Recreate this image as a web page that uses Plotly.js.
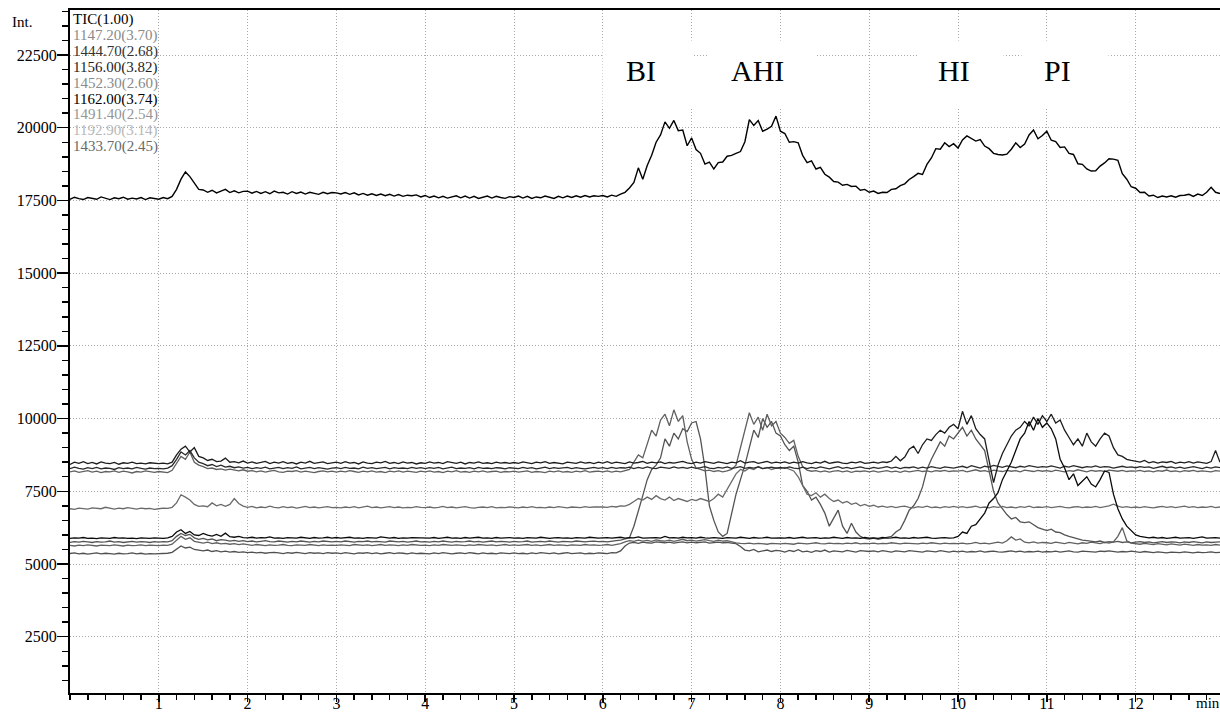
<!DOCTYPE html>
<html>
<head>
<meta charset="utf-8">
<script src="https://cdn.plot.ly/plotly-3.0.1.min.js"></script>
<style>html,body{margin:0;padding:0;background:#fff;}#chart{width:1220px;height:713px;}</style>
</head>
<body>
<div id="chart"></div>
<script>
// Sampling of all chromatograms: start time and step (min)
const T_START = 0;
const T_STEP = 0.05;

// Total ion chromatogram
const ticValues = [
17540,17610,17560,17530,17600,17580,17540,17620,17570,17530,17590,17560,17610,17540,17580,17550,17600,17530,17590,17560,
17540,17600,17560,17640,17880,18230,18480,18320,18080,17880,17860,17780,17850,17760,17820,17880,17770,17830,17760,17810,
17820,17750,17810,17740,17800,17730,17820,17760,17780,17720,17800,17740,17790,17720,17780,17740,17710,17780,17730,17770,
17760,17720,17770,17710,17760,17690,17740,17680,17730,17670,17720,17660,17710,17650,17700,17640,17680,17660,17690,17620,
17670,17600,17650,17590,17640,17580,17630,17660,17590,17650,17580,17640,17570,17620,17650,17580,17640,17600,17570,17630,
17600,17650,17580,17640,17570,17620,17590,17650,17600,17570,17640,17590,17650,17600,17660,17610,17670,17620,17660,17640,
17670,17620,17680,17640,17720,17780,17930,18120,18620,18230,18700,19050,19500,19750,20200,19980,20250,19900,19920,19380,
19650,19250,19120,18750,18820,18580,18800,18820,19020,19050,19120,19180,19520,20280,20080,20250,19880,19950,20050,20400,
19880,19800,19500,19520,19480,19050,18800,18860,18580,18640,18400,18300,18150,18130,18020,18050,17980,17990,17850,17880,
17780,17820,17740,17780,17770,17880,17900,18010,18070,18220,18320,18430,18390,18740,18960,19280,19260,19480,19350,19450,
19300,19580,19720,19620,19540,19590,19370,19280,19120,19080,19060,19090,19260,19480,19320,19440,19750,19920,19620,19730,
19880,19570,19520,19320,19340,19120,19080,18760,18740,18580,18510,18520,18680,18790,18930,18920,18880,18420,18230,17970,
17920,17770,17780,17650,17680,17600,17650,17620,17660,17610,17670,17680,17710,17640,17720,17670,17780,17950,17780,17740
];

// m/z 1147.20 (x3.70)
const mz1147 = [
8170,8200,8150,8180,8210,8160,8190,8140,8180,8170,8200,8150,8190,8170,8130,8180,8160,8200,8170,8150,
8180,8160,8140,8220,8450,8700,8600,8850,8500,8400,8350,8280,8300,8250,8270,8230,8260,8220,8200,8240,
8190,8210,8170,8200,8160,8190,8220,8170,8150,8190,8180,8210,8160,8190,8170,8140,8180,8200,8170,8190,
8160,8190,8170,8210,8180,8150,8190,8170,8200,8160,8180,8140,8190,8170,8200,8160,8190,8180,8150,8190,
8170,8200,8160,8180,8140,8190,8170,8210,8160,8180,8150,8190,8170,8200,8160,8180,8190,8150,8180,8170,
8190,8160,8180,8200,8150,8180,8170,8140,8190,8170,8200,8160,8180,8150,8190,8170,8210,8160,8180,8190,
8170,8200,8160,8190,8170,8210,8250,8500,8750,8650,9100,9600,9400,9950,10150,9750,10300,9900,10100,9200,
8600,8300,8250,8200,8230,8180,8210,8170,8200,8250,8400,9000,9700,10200,9800,10050,9600,10150,9750,9900,
9500,9350,9150,9250,8700,8350,8230,8190,8210,8170,8200,8160,8190,8210,8170,8200,8150,8190,8180,8200,
8170,8200,8160,8190,8210,8170,8190,8150,8200,8170,8190,8220,8180,8200,8170,8210,8190,8220,8180,8200,
8190,8220,8170,8200,8240,8190,8210,8170,8230,8200,8180,8220,8190,8210,8170,8230,8200,8180,8220,8190,
8210,8180,8230,8200,8170,8210,8190,8240,8200,8170,8220,8190,8210,8180,8230,8200,8190,8220,8180,8200,
8190,8220,8180,8200,8170,8210,8190,8230,8180,8200,8170,8210,8190,8220,8180,8200,8190,8170,8210,8190
];

// m/z 1444.70 (x2.68)
const mz1444 = [
8420,8500,8460,8520,8450,8490,8440,8510,8470,8450,8490,8430,8480,8460,8500,8450,8470,8440,8480,8460,
8450,8470,8440,8500,8750,8950,9050,8850,9000,8700,8650,8560,8600,8520,8540,8640,8500,8520,8480,8540,
8470,8510,8460,8490,8530,8450,8500,8470,8520,8460,8490,8440,8500,8470,8530,8460,8490,8510,8450,8480,
8500,8460,8520,8470,8490,8440,8510,8470,8450,8500,8480,8530,8460,8490,8450,8510,8470,8490,8440,8480,
8460,8510,8470,8490,8450,8520,8480,8460,8500,8440,8490,8470,8510,8460,8480,8450,8500,8470,8490,8460,
8490,8460,8510,8470,8450,8500,8480,8520,8460,8490,8470,8440,8500,8480,8460,8510,8470,8490,8450,8500,
8470,8520,8460,8500,8480,8450,8510,8470,8490,8530,8460,8500,8480,8510,8450,8490,8470,8500,8530,8480,
8450,8500,8470,8520,8480,8460,8510,8490,8450,8500,8480,8550,8470,8500,8520,8460,8490,8530,8470,8500,
8480,8510,8460,8500,8470,8520,8480,8450,8500,8470,8530,8460,8490,8510,8470,8450,8500,8480,8520,8460,
8480,8500,8470,8510,8490,8540,8700,8550,8680,8950,9050,8800,9100,9300,9250,9450,9600,9500,9700,9800,
9650,10250,9800,10100,9650,9450,9300,8600,7800,8400,8800,9100,9400,9600,9700,9900,9750,10050,9800,10100,
9900,10150,9850,9950,9600,9350,9100,9300,9050,9500,9200,9050,9300,9500,9400,9000,8750,8700,8600,8560,
8540,8500,8560,8480,8520,8470,8510,8490,8530,8460,8500,8480,8520,8470,8510,8490,8460,8520,8900,8500
];

// m/z 1156.00 (x3.82)
const mz1156 = [
8280,8330,8290,8260,8310,8280,8320,8270,8300,8290,8250,8310,8280,8300,8270,8320,8290,8260,8300,8280,
8290,8270,8300,8380,8600,8850,8750,8900,8650,8500,8450,8380,8420,8350,8400,8330,8360,8310,8340,8300,
8320,8280,8310,8290,8330,8270,8300,8320,8280,8310,8290,8340,8270,8300,8320,8280,8310,8290,8260,8300,
8310,8280,8320,8290,8300,8270,8330,8290,8310,8280,8300,8320,8270,8310,8290,8300,8280,8320,8290,8310,
8280,8310,8290,8320,8270,8300,8330,8280,8300,8290,8310,8270,8320,8290,8300,8280,8310,8300,8270,8310,
8300,8280,8320,8290,8310,8270,8300,8330,8280,8310,8290,8300,8320,8280,8310,8290,8270,8300,8320,8290,
8310,8280,8320,8290,8310,8300,8330,8280,8320,8290,8340,8300,8280,8330,8310,8290,8340,8300,8320,8290,
8330,8290,8310,8350,8300,8280,8320,8300,8340,8290,8310,8350,8290,8320,8300,8340,8280,8310,8330,8300,
8320,8290,8340,8300,8280,8330,8280,8320,8290,8340,8300,8270,8310,8350,8290,8320,8280,8310,8340,8300,
8280,8320,8290,8310,8350,8300,8330,8280,8320,8310,8340,8290,8330,8300,8350,8310,8290,8340,8320,8300,
8330,8360,8310,8380,8340,8300,8360,8330,8390,8350,8320,8370,8340,8310,8360,8330,8380,8340,8320,8350,
8330,8370,8340,8300,8360,8330,8380,8340,8310,8350,8330,8370,8320,8350,8340,8300,8330,8360,8320,8340,
8310,8350,8320,8340,8290,8330,8360,8310,8340,8300,8330,8290,8320,8350,8310,8280,8330,8300,8340,8310
];

// m/z 1452.30 (x2.60)
const mz1452 = [
6900,6880,6920,6900,6890,6930,6910,6900,6950,6910,6890,6920,6900,6940,6910,6890,6920,6900,6910,6880,
6900,6920,6910,6950,7100,7380,7300,7200,7050,6980,7000,6970,7100,7000,7050,6980,7050,7250,7080,6990,
6950,6980,6930,6960,6940,6990,6950,6930,6970,6940,6960,6920,6950,6980,6940,6960,6930,6950,6970,6940,
6950,6930,6960,6940,6970,6930,6950,6990,6940,6960,6930,6950,6970,6940,6960,6930,6950,6940,6970,6950,
6940,6960,6930,6950,6980,6940,6960,6930,6950,6970,6940,6920,6950,6960,6940,6970,6930,6950,6940,6960,
6950,6930,6960,6940,6970,6940,6950,6930,6960,6940,6970,6950,6930,6960,6950,6940,6970,6950,6960,6970,
6960,6950,6980,6960,7000,6990,7050,7150,7250,7200,7300,7220,7350,7250,7200,7300,7180,7250,7200,7150,
7220,7180,7250,7200,7150,7250,7400,7300,7550,7800,8100,8250,8200,8300,8250,8350,8280,8320,8250,8300,
8280,8320,8250,8200,8000,7700,7400,7350,7450,7300,7400,7250,7150,7200,7100,7150,7050,7100,7000,7050,
6980,7020,6960,6990,6950,6980,6940,6970,6990,6950,6930,6970,6950,6990,6940,6960,6930,6970,6950,6980,
6950,6970,6940,6960,6990,6940,6960,6930,6970,6950,6980,6940,6960,6930,6970,6950,6990,6940,6960,6950,
6970,6940,6960,6980,6950,6930,6960,6970,6940,6960,6950,6980,6940,6970,7000,7060,6990,6950,6970,6940,
6960,6940,6970,6950,6930,6960,6980,6950,6970,6940,6960,6990,6950,6970,6940,6960,6950,6980,6940,6960
];

// m/z 1162.00 (x3.74)
const mz1162 = [
5880,5900,5890,5910,5880,5890,5870,5900,5890,5880,5910,5890,5900,5880,5890,5870,5900,5890,5880,5900,
5890,5880,5900,5950,6100,6180,6050,6120,6000,5980,6050,5990,5960,6020,5950,6060,5940,5920,5950,5910,
5900,5920,5890,5910,5900,5930,5890,5900,5880,5910,5900,5890,5920,5900,5880,5910,5890,5900,5920,5890,
5910,5890,5900,5920,5890,5900,5880,5910,5900,5890,5930,5900,5890,5910,5880,5900,5890,5910,5900,5890,
5900,5890,5910,5880,5900,5920,5890,5900,5880,5910,5890,5900,5920,5890,5900,5880,5910,5890,5900,5910,
5890,5900,5880,5910,5900,5890,5920,5900,5880,5900,5910,5890,5900,5880,5910,5900,5890,5920,5900,5890,
5900,5910,5890,5900,5920,5890,5910,5900,5930,5890,5900,5920,5910,5890,5950,5900,5910,5890,5920,5900,
5910,5890,5920,5900,5890,5910,5900,5880,5910,5900,5890,5920,5900,5880,5910,5890,5900,5920,5890,5900,
5900,5890,5910,5880,5900,5920,5890,5900,5910,5880,5900,5890,5920,5900,5880,5910,5890,5900,5880,5910,
5890,5900,5880,5910,5890,5900,5920,5890,5900,5880,5910,5890,5900,5920,5890,5880,5900,5910,5890,5900,
5950,6100,6050,6300,6350,6550,6750,7100,7250,7450,7900,8200,8500,8900,9300,9500,9900,9600,10000,9700,
9850,9650,9300,8600,8300,7900,8100,7700,7850,8000,7750,7650,7900,8200,8150,7400,6900,6550,6300,6150,
6000,5950,5930,5900,5920,5890,5910,5880,5900,5920,5890,5900,5910,5880,5900,5930,5890,5900,5910,5890
];

// m/z 1491.40 (x2.54)
const mz1491 = [
5640,5620,5650,5630,5660,5640,5620,5650,5640,5630,5660,5640,5620,5650,5630,5640,5660,5630,5650,5640,
5630,5650,5640,5680,5800,5950,5850,5900,5780,5760,5720,5750,5700,5730,5690,5710,5680,5700,5670,5690,
5660,5640,5670,5650,5630,5660,5640,5650,5670,5640,5630,5660,5650,5640,5670,5650,5630,5660,5640,5650,
5640,5660,5650,5630,5670,5650,5640,5660,5630,5650,5670,5640,5660,5650,5630,5660,5640,5670,5650,5640,
5650,5630,5660,5640,5670,5650,5640,5660,5650,5630,5660,5640,5670,5650,5640,5660,5630,5650,5670,5640,
5660,5640,5650,5670,5640,5660,5630,5650,5670,5640,5660,5650,5630,5660,5650,5640,5670,5650,5660,5640,
5650,5670,5640,5660,5700,5760,5800,5780,5820,5790,5810,5780,5830,5800,5790,5820,5780,5810,5850,5800,
5820,5790,5810,5840,5800,5780,5820,5790,5800,5760,5730,5710,5700,5720,5690,5710,5700,5680,5710,5700,
5690,5710,5700,5680,5720,5700,5690,5710,5730,5700,5690,5720,5700,5710,5690,5720,5700,5730,5690,5710,
5700,5720,5690,5710,5700,5730,5700,5690,5720,5710,5700,5690,5720,5700,5730,5710,5690,5720,5700,5710,
5700,5720,5690,5710,5740,5700,5720,5690,5710,5750,5720,5800,5930,5820,5860,5750,5730,5760,5720,5740,
5730,5710,5750,5720,5700,5740,5720,5690,5730,5710,5750,5720,5700,5740,5720,5760,5950,6250,5800,5720,
5700,5680,5710,5690,5670,5700,5680,5660,5690,5670,5650,5680,5660,5640,5670,5650,5660,5640,5670,5650
];

// m/z 1192.90 (x3.14)
const mz1192 = [
5360,5380,5350,5370,5340,5360,5380,5350,5370,5360,5340,5370,5350,5360,5380,5350,5370,5340,5360,5350,
5360,5350,5370,5400,5500,5620,5550,5580,5500,5470,5450,5480,5430,5460,5420,5440,5410,5430,5400,5420,
5390,5410,5380,5400,5370,5390,5400,5380,5360,5390,5370,5400,5380,5360,5390,5370,5380,5360,5390,5370,
5380,5360,5390,5370,5350,5380,5370,5390,5360,5380,5350,5370,5390,5360,5380,5370,5350,5380,5360,5370,
5370,5350,5380,5360,5390,5370,5350,5370,5380,5360,5390,5370,5350,5380,5360,5370,5350,5380,5370,5360,
5380,5360,5370,5350,5380,5360,5390,5370,5360,5380,5350,5370,5390,5360,5370,5380,5350,5370,5360,5380,
5370,5360,5390,5380,5450,5620,5720,5740,5710,5750,5730,5720,5760,5740,5730,5750,5720,5740,5760,5730,
5750,5730,5740,5760,5720,5740,5750,5730,5740,5720,5700,5600,5480,5450,5500,5420,5460,5480,5430,5470,
5450,5410,5470,5430,5490,5420,5440,5400,5460,5430,5480,5410,5450,5440,5420,5470,5430,5410,5460,5440,
5430,5450,5420,5460,5440,5410,5450,5430,5420,5460,5440,5430,5410,5450,5440,5420,5460,5430,5410,5440,
5420,5440,5410,5430,5420,5450,5410,5430,5440,5420,5410,5430,5450,5420,5440,5410,5430,5420,5440,5410,
5430,5420,5440,5410,5430,5450,5420,5410,5440,5430,5420,5410,5440,5430,5450,5420,5410,5430,5420,5440,
5420,5400,5430,5410,5390,5420,5400,5380,5410,5400,5390,5420,5400,5380,5410,5390,5400,5420,5390,5400
];

// m/z 1433.70 (x2.45)
const mz1433 = [
5740,5770,5750,5780,5760,5740,5770,5750,5760,5790,5750,5770,5740,5760,5780,5750,5770,5760,5740,5770,
5750,5770,5760,5800,5950,6050,5980,6020,5900,5850,5880,5830,5860,5800,5840,5820,5790,5810,5780,5800,
5770,5790,5760,5780,5800,5770,5760,5790,5770,5750,5780,5760,5790,5770,5750,5780,5760,5790,5770,5760,
5780,5760,5790,5770,5750,5780,5770,5790,5760,5780,5770,5750,5790,5770,5760,5780,5750,5770,5790,5760,
5770,5750,5780,5760,5790,5770,5750,5780,5760,5770,5790,5760,5780,5750,5770,5790,5760,5780,5770,5750,
5780,5760,5770,5790,5750,5770,5780,5760,5790,5770,5750,5780,5770,5760,5790,5770,5760,5780,5790,5770,
5780,5760,5790,5800,5820,5850,5900,6300,6800,7350,7900,8250,8400,8650,9300,9050,9500,9300,9650,9550,
9850,9900,9300,8300,7000,6500,6100,5950,6050,6700,7400,7900,8400,9000,9600,9350,10000,9700,9900,9500,
9400,9100,8900,9050,8500,7700,7500,7200,7300,7050,6750,6300,6600,6850,6300,6050,6400,6100,5950,5880,
5860,5890,5850,5880,5900,5950,6100,6200,6500,6850,7000,7250,7650,8250,8600,8900,9200,9050,9400,9300,
9500,9700,9400,9600,9300,9100,8900,8200,7500,7100,6900,6700,6550,6600,6450,6420,6450,6350,6250,6200,
6150,6200,6100,6080,6000,5950,5900,5870,5820,5800,5780,5760,5790,5740,5770,5750,5780,5740,5760,5730,
5750,5770,5740,5760,5730,5750,5770,5740,5760,5750,5730,5760,5740,5770,5750,5730,5760,5740,5750,5760
];

// Legend (listed in the original order)
const legendNames  = ['TIC(1.00)','1147.20(3.70)','1444.70(2.68)','1156.00(3.82)','1452.30(2.60)','1162.00(3.74)','1491.40(2.54)','1192.90(3.14)','1433.70(2.45)'];
const legendColors = ['#000000','#8a8a8a','#333333','#1e1e1e','#8a8a8a','#000000','#959595','#b8b8b8','#6a6a6a'];
const seriesValues = [ticValues, mz1147, mz1444, mz1156, mz1452, mz1162, mz1491, mz1192, mz1433];
const lineColors   = ['#000000','#606060','#1c1c1c','#2a2a2a','#6a6a6a','#0a0a0a','#606060','#505050','#545454'];
const drawOrder    = [7, 6, 8, 4, 1, 3, 2, 5, 0];

// Axis ticks
const xTickVals = [1,2,3,4,5,6,7,8,9,10,11,12];
const xTickText = ['1','2','3','4','5','6','7','8','9','10','11','12'];
const yTickVals = [2500,5000,7500,10000,12500,15000,17500,20000,22500];
const yTickText = ['2500','5000','7500','10000','12500','15000','17500','20000','22500'];

// Peak labels
const peakLabels = ['BI','AHI','HI','PI'];
const peakLabelX = [6.43, 7.74, 9.96, 11.12];
const peakLabelY = 21950;
const peakBoxY = 21830;
const peakBoxWidth = [89, 107, 84, 86];
const peakBoxShift = [6, 4, 7, 8];

const FONT = '"Liberation Serif", "Times New Roman", Times, serif';

const traces = drawOrder.map(i => ({
  type: 'scatter', mode: 'lines',
  x0: T_START, dx: T_STEP,
  y: seriesValues[i],
  name: legendNames[i],
  line: {color: lineColors[i], width: i === 0 ? 1.4 : 1.3},
  hoverinfo: 'skip'
}));

const annotations = [];
annotations.push({xref:'paper', yref:'paper', x:0, y:1, xshift:-48, yshift:-12, xanchor:'center', yanchor:'middle',
  text:'Int.', showarrow:false, font:{family:FONT, size:15, color:'#000'}});
annotations.push({xref:'paper', yref:'paper', x:1, y:0, xshift:-25, yshift:-10, xanchor:'left', yanchor:'middle',
  text:'min', showarrow:false, borderpad:0, font:{family:FONT, size:15, color:'#000'}});
legendNames.forEach((nm, i) => {
  annotations.push({xref:'paper', yref:'paper', x:0, y:1, xshift:2, yshift:-15.9 * i, xanchor:'left', yanchor:'top',
    text:nm, showarrow:false, borderpad:0, font:{family:FONT, size:15, color:legendColors[i]}});
});
peakLabels.forEach((lab, i) => {
  annotations.push({xref:'x', yref:'y', x:peakLabelX[i], y:peakBoxY, xshift:peakBoxShift[i], xanchor:'center', yanchor:'middle',
    text:' ', showarrow:false, width:peakBoxWidth[i], height:67, bgcolor:'#ffffff', borderpad:0,
    font:{family:FONT, size:30, color:'#000'}});
});
peakLabels.forEach((lab, i) => {
  annotations.push({xref:'x', yref:'y', x:peakLabelX[i], y:peakLabelY, xanchor:'center', yanchor:'middle',
    text:lab, showarrow:false, borderpad:0, font:{family:FONT, size:30, color:'#000'}});
});

const layout = {
  width: 1220, height: 713,
  margin: {l:70, r:0, t:10, b:20, pad:0},
  paper_bgcolor: '#ffffff', plot_bgcolor: '#ffffff',
  showlegend: false,
  font: {family: FONT, size: 16, color: '#000'},
  xaxis: {
    range: [0, 12.95], tickmode: 'array', tickvals: xTickVals, ticktext: xTickText,
    ticks: 'outside', ticklen: 7, tickwidth: 1.5, tickcolor: '#000',
    showline: true, linecolor: '#000', linewidth: 2, mirror: true,
    showgrid: true, gridcolor: '#a8a8a8', gridwidth: 1, griddash: '1px,2px', zeroline: false,
    minor: {tickmode: 'linear', tick0: 0, dtick: 0.2, ticks: 'outside', ticklen: 5, tickwidth: 1.5, tickcolor: '#000', showgrid: false},
    tickfont: {family: FONT, size: 16, color: '#000'}, ticklabelstandoff: -12, fixedrange: true
  },
  yaxis: {
    range: [565, 24047], tickmode: 'array', tickvals: yTickVals, ticktext: yTickText,
    ticks: 'outside', ticklen: 11, tickwidth: 1.5, tickcolor: '#000',
    showline: true, linecolor: '#000', linewidth: 2, mirror: false,
    showgrid: true, gridcolor: '#a8a8a8', gridwidth: 1, griddash: '1px,2px', zeroline: false,
    minor: {tickmode: 'linear', tick0: 0, dtick: 500, ticks: 'outside', ticklen: 6, tickwidth: 1.5, tickcolor: '#000', showgrid: false},
    tickfont: {family: FONT, size: 16, color: '#000'}, ticklabelstandoff: -3, fixedrange: true
  },
  annotations: annotations
};

Plotly.newPlot('chart', traces, layout, {staticPlot: true, displayModeBar: false});
</script>
</body>
</html>
